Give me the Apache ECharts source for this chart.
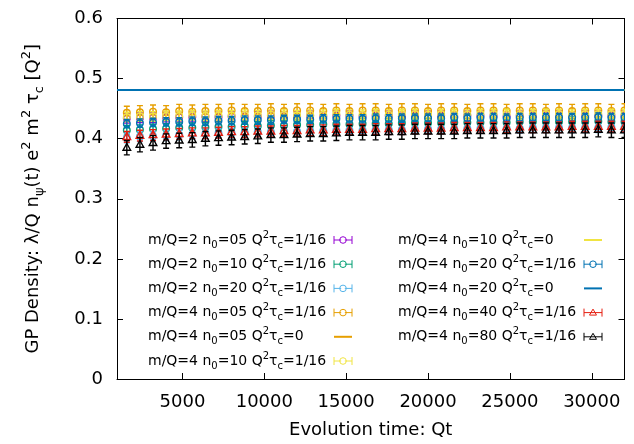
<!DOCTYPE html>
<html><head><meta charset="utf-8">
<script src="https://cdn.jsdelivr.net/npm/echarts@6/dist/echarts.min.js"></script>
<style>html,body{margin:0;padding:0;background:#fff}#c{width:634px;height:444px}</style>
</head><body><div id="c"></div>
<script>
// ---------- data ----------
const qt = [1600,2400,3200,4000,4800,5600,6400,7200,8000,8800,9600,10400,11200,12000,12800,13600,14400,15200,16000,16800,17600,18400,19200,20000,20800,21600,22400,23200,24000,24800,25600,26400,27200,28000,28800,29600,30400,31200,32000];
const xTicks = [5000,10000,15000,20000,25000,30000];
const xRange = [1000, 32000];
const yRange = [0, 0.6];

const m2n05 = [0.434,0.435,0.435,0.436,0.436,0.436,0.437,0.436,0.437,0.437,0.437,0.438,0.437,0.437,0.438,0.437,0.438,0.438,0.437,0.438,0.438,0.437,0.438,0.438,0.438,0.437,0.438,0.438,0.438,0.437,0.438,0.438,0.438,0.438,0.437,0.438,0.438,0.438,0.438];
const m2n10 = [0.414,0.415,0.416,0.417,0.418,0.418,0.419,0.420,0.420,0.421,0.421,0.422,0.422,0.423,0.423,0.424,0.424,0.424,0.425,0.425,0.425,0.426,0.426,0.426,0.426,0.427,0.427,0.427,0.427,0.427,0.428,0.428,0.428,0.428,0.428,0.428,0.429,0.428,0.428];
const m2n20 = [0.401,0.403,0.404,0.405,0.406,0.407,0.408,0.409,0.409,0.410,0.411,0.411,0.412,0.412,0.413,0.413,0.414,0.414,0.414,0.415,0.415,0.415,0.416,0.416,0.416,0.416,0.417,0.417,0.417,0.417,0.417,0.418,0.418,0.418,0.418,0.418,0.418,0.419,0.418];
const m4n05 = [0.443,0.444,0.445,0.444,0.446,0.445,0.446,0.446,0.447,0.446,0.446,0.447,0.446,0.447,0.447,0.446,0.447,0.446,0.447,0.447,0.446,0.447,0.447,0.446,0.447,0.447,0.446,0.447,0.447,0.446,0.447,0.447,0.446,0.447,0.446,0.447,0.447,0.446,0.447];
const m4n10 = [0.436,0.437,0.437,0.438,0.438,0.439,0.438,0.439,0.439,0.440,0.439,0.440,0.440,0.439,0.440,0.440,0.441,0.440,0.440,0.441,0.440,0.441,0.441,0.440,0.441,0.441,0.440,0.441,0.441,0.441,0.440,0.441,0.441,0.441,0.440,0.441,0.441,0.441,0.441];
const m4n20 = [0.425,0.426,0.427,0.428,0.428,0.429,0.429,0.430,0.430,0.431,0.431,0.431,0.432,0.432,0.432,0.433,0.433,0.433,0.433,0.434,0.433,0.434,0.434,0.434,0.434,0.435,0.434,0.435,0.435,0.434,0.435,0.435,0.435,0.435,0.435,0.435,0.436,0.435,0.435];
const m4n40 = [0.403,0.405,0.406,0.407,0.408,0.409,0.409,0.410,0.411,0.411,0.412,0.412,0.413,0.413,0.414,0.414,0.415,0.415,0.415,0.416,0.416,0.416,0.417,0.417,0.417,0.418,0.418,0.418,0.418,0.419,0.419,0.419,0.419,0.419,0.420,0.420,0.420,0.420,0.420];
const m4n80 = [0.385,0.390,0.393,0.396,0.397,0.398,0.400,0.401,0.402,0.403,0.404,0.406,0.406,0.407,0.408,0.408,0.409,0.410,0.410,0.410,0.411,0.411,0.412,0.412,0.412,0.412,0.413,0.413,0.413,0.413,0.414,0.414,0.414,0.414,0.414,0.414,0.415,0.414,0.414];
// tau_c = 0 reference levels (constant lines)
const tau0Level = [0.481, 0.481, 0.481];
// error-bar half widths per point series
const errs = [0.008, 0.008, 0.008, 0.011, 0.008, 0.007, 0.009, 0.012];

// legend label parts
const mOverQ = ['2','2','2','4','4','4','4','4','4','4','4'];
const n0s    = ['05','10','20','05','05','10','10','20','20','40','80'];
const taus   = ['1/16','1/16','1/16','1/16','0','1/16','0','1/16','0','1/16','1/16'];

// ---------- chart ----------
const FONT = 'DejaVu Sans';
const colors = ['#9400d3','#009e73','#56b4e9','#e69f00','#e69f00','#f0e442','#f0e442','#0072b2','#0072b2','#e51e10','#000000'];
const kinds  = ['circle','circle','circle','circle','line','circle','line','circle','line','tri','tri'];
const pointData = [m2n05, m2n10, m2n20, m4n05, null, m4n10, null, m4n20, null, m4n40, m4n80];
const lineIdx = {4:0, 6:1, 8:2};

const names = mOverQ.map((m,i)=>'m/Q='+m+' n0='+n0s[i]+' Q2tc='+taus[i]);
const richLabel = {};
names.forEach((n,i)=>{
  richLabel[n] = '{t|m/Q='+mOverQ[i]+' n}{sub|0}{t|='+n0s[i]+' Q}{sup|2}{t|τ}{sub|c}{t|='+taus[i]+'}';
});

function errRender(color, marker) {
  return function (params, api) {
    const x = api.value(0), y = api.value(1), e = api.value(2);
    const c = api.coord([x, y]);
    const hi = api.coord([x, y + e]);
    const lo = api.coord([x, y - e]);
    const hw = 3;
    const st = {stroke: color, lineWidth: 1.4, fill: 'none'};
    const kids = [
      {type:'line', shape:{x1:c[0],y1:hi[1],x2:c[0],y2:lo[1]}, style:st},
      {type:'line', shape:{x1:c[0]-hw,y1:hi[1],x2:c[0]+hw,y2:hi[1]}, style:st},
      {type:'line', shape:{x1:c[0]-hw,y1:lo[1],x2:c[0]+hw,y2:lo[1]}, style:st}
    ];
    if (marker === 'circle') {
      kids.push({type:'circle', shape:{cx:c[0],cy:c[1],r:3.3}, style:st});
    } else {
      kids.push({type:'polygon', shape:{points:[[c[0],c[1]-4.2],[c[0]+3.8,c[1]+2.6],[c[0]-3.8,c[1]+2.6]]}, style:st});
    }
    return {type:'group', children:kids};
  };
}

const series = [];
const legendItems = [];
let pi = 0;
const ICON_CIRCLE = 'path://M0,4L7.2,4M10.8,4L18,4M0,0L0,8M18,0L18,8M12.3,4A3.3,3.3,0,1,1,5.7,4A3.3,3.3,0,1,1,12.3,4';
const ICON_TRI = 'path://M0,4L18,4M0,0L0,8M18,0L18,8M9,0.5L12.5,6.5L5.5,6.5Z';
names.forEach((n,i)=>{
  const col = colors[i];
  if (kinds[i] === 'line') {
    const v = tau0Level[lineIdx[i]];
    series.push({
      type:'line', name:n, data:[[xRange[0], v],[xRange[1], v]],
      symbol:'none', showSymbol:false, silent:true,
      lineStyle:{color:col, width:1.8}, itemStyle:{color:col}, z: 2
    });
    legendItems.push({name:n, itemStyle:{color:'transparent', borderColor:'transparent', borderWidth:0, opacity:0}});
  } else {
    const vals = pointData[i];
    const e = errs[pi++];
    series.push({
      type:'custom', name:n, clip:true,
      itemStyle:{color:col},
      renderItem: errRender(col, kinds[i]),
      encode:{x:0, y:1},
      data: qt.map((x,k)=>[x, vals[k], e]),
      z: 2
    });
    legendItems.push({name:n, icon: kinds[i]==='circle'?ICON_CIRCLE:ICON_TRI,
      itemStyle:{color:'transparent', borderColor:col, borderWidth:1}});
  }
});

const legendRich = {
  t:{fontFamily:FONT, fontSize:14, lineHeight:20, align:'left', color:'#000'},
  sub:{fontFamily:FONT, fontSize:10, lineHeight:7, verticalAlign:'bottom', align:'left', color:'#000'},
  sup:{fontFamily:FONT, fontSize:10, lineHeight:7, verticalAlign:'top', align:'left', color:'#000'}
};
function mkLegend(left, items) {
  return {
    orient:'vertical', left:left, top:230, padding:0, itemGap:4.2,
    itemWidth:18, itemHeight:8, align:'right', selectedMode:false,
    data:items, formatter:(n)=>richLabel[n],
    textStyle:{fontFamily:FONT, fontSize:14, color:'#000', width:181, rich:legendRich}
  };
}

const axisLineStyle = {color:'#000', width:1};
const option = {
  animation:false,
  textStyle:{fontFamily:FONT},
  grid:{left:117, right:9.5, top:18.5, bottom:64.5, containLabel:false},
  legend:[mkLegend(148, legendItems.slice(0,6)), mkLegend(398, legendItems.slice(6))],
  xAxis:[{
    type:'value', min:xRange[0], max:xRange[1], position:'bottom',
    axisLine:{show:true, onZero:false, lineStyle:axisLineStyle},
    axisTick:{show:true, inside:true, length:6, customValues:xTicks, lineStyle:axisLineStyle},
    axisLabel:{show:true, customValues:xTicks, margin:14, fontSize:18, color:'#000', fontFamily:FONT,
      formatter:(v)=>String(v)},
    splitLine:{show:false},
    name:'Evolution time: Qt', nameLocation:'middle', nameGap:42,
    nameTextStyle:{fontSize:18, color:'#000', fontFamily:FONT}
  },{
    type:'value', min:xRange[0], max:xRange[1], position:'top',
    axisLine:{show:true, onZero:false, lineStyle:axisLineStyle},
    axisTick:{show:true, inside:true, length:6, customValues:xTicks, lineStyle:axisLineStyle},
    axisLabel:{show:false}, splitLine:{show:false}
  }],
  yAxis:[{
    type:'value', min:yRange[0], max:yRange[1], interval:0.1, position:'left',
    axisLine:{show:true, onZero:false, lineStyle:axisLineStyle},
    axisTick:{show:true, inside:true, length:6, lineStyle:axisLineStyle},
    axisLabel:{margin:14, fontSize:18, color:'#000', fontFamily:FONT},
    splitLine:{show:false},
    name:'{t|GP Density: λ/Q n}{sub|ψ}{t|(t) e}{sup|2}{t| m}{sup|2}{t| τ}{sub|c}{t| [Q}{sup|2}{t|]}',
    nameLocation:'middle', nameGap:71,
    nameTextStyle:{fontSize:18, color:'#000', fontFamily:FONT, rich:{
      t:{fontFamily:FONT, fontSize:18, lineHeight:26, color:'#000'},
      sub:{fontFamily:FONT, fontSize:13, lineHeight:9, verticalAlign:'bottom', color:'#000'},
      sup:{fontFamily:FONT, fontSize:13, lineHeight:9, verticalAlign:'top', color:'#000'}
    }}
  },{
    type:'value', min:yRange[0], max:yRange[1], interval:0.1, position:'right',
    axisLine:{show:true, onZero:false, lineStyle:axisLineStyle},
    axisTick:{show:true, inside:true, length:6, lineStyle:axisLineStyle},
    axisLabel:{show:false}, splitLine:{show:false}
  }],
  series: series
};
const chart = echarts.init(document.getElementById('c'), null, {renderer:'canvas'});
chart.setOption(option);
</script>
</body></html>
